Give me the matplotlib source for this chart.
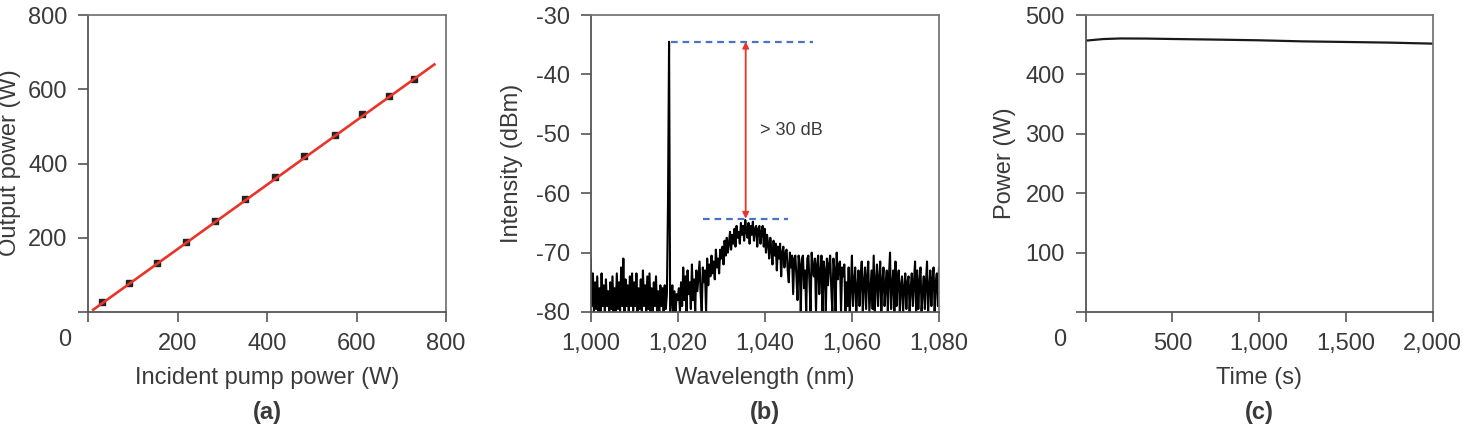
import numpy as np
import matplotlib
matplotlib.use("Agg")
import matplotlib.pyplot as plt

plt.rcParams['font.family'] = ['Liberation Sans', 'DejaVu Sans']
plt.rcParams['axes.unicode_minus'] = False

TEXT = '#3a3a3a'
SPINE = '#555555'
FS = 17

# (a) output power vs incident pump power
pump_power = [30, 92, 154, 218, 284, 350, 417, 482, 551, 612, 672, 729]
output_power = [26, 77, 131, 188, 245, 305, 364, 421, 478, 533, 582, 628]
fit_x = [11, 774]
fit_slope, fit_intercept = 0.866, -3.4

# (b) spectrum, 0.25 nm steps from 1000 nm
wl_start, wl_step = 1000.0, 0.25
intensity = [
    -71, -79, -73.5, -80, -75, -79.5, -74, -80, -76, -80, -73.5, -79, -75.5, -80, -74.5, -79, -76.5, -80, -75, -79.5,
    -74, -80, -76, -80, -73.5, -79.5, -75, -80, -72.5, -79, -71, -80, -74.5, -79, -75.5, -80, -74, -79, -73.5, -80,
    -75, -79, -73.5, -80, -76, -79.5, -74.5, -80, -73, -79, -75.5, -80, -74, -79.5, -73.5, -80, -76, -80, -75, -79,
    -74, -80, -76.5, -80, -75.5, -79, -76, -80, -75.5, -79.5, -77, -62, -34.5, -80, -78, -75.5, -80, -76.5, -80, -77,
    -78, -76, -80, -75, -79, -72.5, -78, -74, -80, -73, -77, -75, -79.5, -72, -78, -74.5, -80, -73, -76.5, -74,
    -71.5, -77, -80, -72.5, -75, -73, -80, -71, -75.5, -72, -74, -70.5, -73.5, -71.5, -74.5, -69.5, -72.5, -71, -73.5, -69.5,
    -71, -69, -72, -68, -70.5, -67.5, -70, -68.5, -66.5, -69.5, -67, -68.5, -66, -69, -65.5, -67.5, -66.5, -68.5, -65, -67,
    -65.5, -68, -64.5, -66.5, -67.5, -65, -68.5, -65.5, -67, -64.8, -68, -66, -65.5, -69, -66, -65.5, -68.5, -66.5, -65.5, -69,
    -66, -70, -67, -68.5, -71, -67.5, -69.5, -72, -68, -70.5, -68.5, -73, -69, -71, -68.5, -74, -70, -69, -72.5, -70,
    -69.5, -73, -75, -70, -72.5, -70.5, -77, -71, -70.5, -74, -78, -70.5, -72, -80, -71, -70.5, -76, -73, -80, -71,
    -70.5, -75, -80, -70, -72.5, -74, -71, -80, -72, -70.5, -77, -73.5, -70.5, -80, -71.5, -73, -80, -71, -75.5, -72,
    -70.5, -76, -80, -71, -73, -80, -70, -74.5, -72, -71.5, -80, -72.5, -74, -72, -80, -75, -79, -72.5, -80, -76,
    -70.5, -79, -75, -72.5, -80, -76, -73, -79, -74.5, -71.5, -80, -75, -72.5, -79.5, -74, -71.5, -80, -76.5, -73, -79.5,
    -70.5, -80, -75, -72, -79, -74.5, -71.5, -80, -75, -72.5, -79, -75.5, -73, -80, -74, -70, -79.5, -75.5, -73, -80,
    -71.5, -79, -74.5, -73, -80, -75.5, -74, -80, -76, -73.5, -79.5, -75, -74, -80, -76, -73.5, -79, -75, -71.5, -80,
    -73, -79.5, -75, -72.5, -80, -76.5, -74, -79.5, -75, -71.5, -80, -76, -73, -79, -74.5, -72.5, -80, -75, -73.5, -79,
    -72.5,
]
peak_level, ase_level = -34.5, -64.3
peak_line_x = [1018.5, 1051.0]
ase_line_x = [1025.7, 1045.3]
arrow_x = 1035.6

# (c) power stability
time_s = [0, 100, 200, 350, 500, 750, 1000, 1250, 1500, 1750, 2000]
stab_power = [456.8, 459.5, 460.5, 460.3, 459.6, 458.6, 457.4, 455.6, 454.6, 453.5, 451.8]


def style_axes(ax):
    for side in ['left', 'bottom']:
        ax.spines[side].set_color(SPINE)
        ax.spines[side].set_linewidth(1.3)
    for side in ['top', 'right']:
        ax.spines[side].set_color('#777777')
        ax.spines[side].set_linewidth(1.3)
    ax.tick_params(direction='out', length=7, width=1.2, color=SPINE,
                   labelsize=FS, labelcolor=TEXT, pad=8)


def fmt_thousands(values):
    return [f"{v:,}" for v in values]


fig = plt.figure(figsize=(14.63, 4.32), dpi=100)
W, H = 1463.0, 432.0

def add_axes(left_px, right_px):
    return fig.add_axes([left_px / W, (H - 312) / H, (right_px - left_px) / W, (312 - 15) / H])

ax_a = add_axes(88.3, 446.0)
ax_b = add_axes(590.7, 939.0)
ax_c = add_axes(1085.7, 1432.7)

# panel (a)
fx = np.array(fit_x, dtype=float)
ax_a.plot(pump_power, output_power, 's', color='#222222', markersize=4, zorder=2)
ax_a.plot(fx, fit_slope * fx + fit_intercept, color='#e8352a', lw=1.9, zorder=3)
ax_a.set_xlim(0, 800)
ax_a.set_ylim(0, 800)
ax_a.set_xticks([0, 200, 400, 600, 800])
ax_a.set_xticklabels(['', '200', '400', '600', '800'])
ax_a.set_yticks([0, 200, 400, 600, 800])
ax_a.set_yticklabels(['', '200', '400', '600', '800'])
style_axes(ax_a)

# panel (b)
wl = wl_start + wl_step * np.arange(len(intensity))
ax_b.plot(wl, intensity, color='black', lw=1.5)
ax_b.plot(peak_line_x, [peak_level] * 2, color='#4a72c4', lw=1.6, ls=(0, (3, 2.2)))
ax_b.plot(ase_line_x, [ase_level] * 2, color='#4a72c4', lw=1.6, ls=(0, (3, 2.2)))
ax_b.annotate('', xy=(arrow_x, ase_level), xytext=(arrow_x, peak_level),
              arrowprops=dict(arrowstyle='<|-|>', color='#e8352a', lw=1.3,
                              mutation_scale=9, shrinkA=0, shrinkB=0))
ax_b.text(1038.9, -49.4, '> 30 dB', fontsize=13, color=TEXT, va='center', ha='left')
ax_b.set_xlim(1000, 1080)
ax_b.set_ylim(-80, -30)
ax_b.set_xticks([1000, 1020, 1040, 1060, 1080])
ax_b.set_xticklabels(fmt_thousands([1000, 1020, 1040, 1060, 1080]))
ax_b.set_yticks([-80, -70, -60, -50, -40, -30])
style_axes(ax_b)

# panel (c)
ax_c.plot(time_s, stab_power, color='#1a1a1a', lw=1.6)
ax_c.set_xlim(0, 2000)
ax_c.set_ylim(0, 500)
ax_c.set_xticks([0, 500, 1000, 1500, 2000])
ax_c.set_xticklabels([''] + fmt_thousands([500, 1000, 1500, 2000]))
ax_c.set_yticks([0, 100, 200, 300, 400, 500])
ax_c.set_yticklabels(['', '100', '200', '300', '400', '500'])
style_axes(ax_c)

# shared origin "0" labels
fig.text(65 / W, (H - 340) / H, '0', fontsize=FS, color=TEXT, ha='center', va='center')
fig.text(1060 / W, (H - 340) / H, '0', fontsize=FS, color=TEXT, ha='center', va='center')

# axis labels
lab = dict(fontsize=FS, color=TEXT, ha='center', va='center')
fig.text((88.3 + 446) / 2 / W, (H - 378) / H, 'Incident pump power (W)', **lab)
fig.text((590.7 + 939) / 2 / W, (H - 378) / H, 'Wavelength (nm)', **lab)
fig.text((1085.7 + 1432.7) / 2 / W, (H - 378) / H, 'Time (s)', **lab)
fig.text(10 / W, (H - 163) / H, 'Output power (W)', rotation=90, **lab)
fig.text(512 / W, (H - 163) / H, 'Intensity (dBm)', rotation=90, **lab)
fig.text(1005 / W, (H - 163) / H, 'Power (W)', rotation=90, **lab)

# panel tags
for cx, tag in [((88.3 + 446) / 2, '(a)'), ((590.7 + 939) / 2, '(b)'), ((1085.7 + 1432.7) / 2, '(c)')]:
    fig.text(cx / W, (H - 413) / H, tag, fontsize=FS, fontweight='bold', color=TEXT,
             ha='center', va='center')

fig.savefig('out.png', dpi=100)
